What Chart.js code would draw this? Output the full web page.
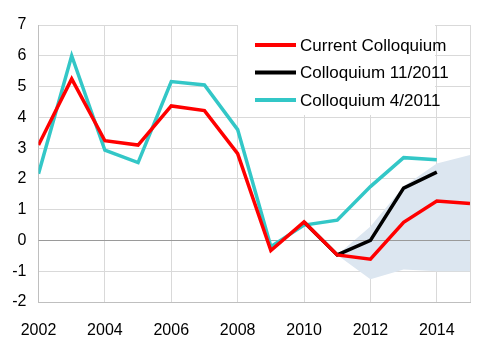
<!DOCTYPE html>
<html>
<head>
<meta charset="utf-8">
<script src="https://cdn.jsdelivr.net/npm/chart.js@4"></script>
<style>
  html, body { margin: 0; padding: 0; background: #fff; }
  #wrap { width: 500px; height: 353px; }
</style>
</head>
<body>
<div id="wrap"><canvas id="grafico" width="500" height="353"></canvas></div>
<script>
// Dados
const anos = [2002, 2003, 2004, 2005, 2006, 2007, 2008, 2009, 2010, 2011, 2012, 2013, 2014, 2015];
const atual = [3.1, 5.25, 3.24, 3.1, 4.37, 4.22, 2.82, -0.33, 0.6, -0.47, -0.61, 0.59, 1.28, 1.2];
const nov2011 = [null, null, null, null, null, null, null, null, 0.6, -0.47, 0.0, 1.7, 2.22, null];
const abr2011 = [2.17, 6.0, 2.93, 2.53, 5.16, 5.05, 3.6, -0.2, 0.5, 0.66, 1.75, 2.69, 2.62, null];
const faixaSuperior = [null, null, null, null, null, null, null, null, null, -0.47, 0.45, 1.75, 2.5, 2.78];
const faixaInferior = [null, null, null, null, null, null, null, null, null, -0.47, -1.26, -0.94, -1.0, -1.0];
const ticksX = [2002, 2004, 2006, 2008, 2010, 2012, 2014, 2015];
const nomes = ['Current Colloquium', 'Colloquium 11/2011', 'Colloquium 4/2011'];
const cores = ['#ff0000', '#000000', '#33c7c7'];

const pontos = valores => anos.map((a, i) => ({ x: a, y: valores[i] }));
const familia = '"Liberation Sans", Arial, sans-serif';

// Linha do zero por cima da faixa
const linhaZero = {
    id: 'linhaZero',
    beforeDatasetsDraw(chart) {
        const { ctx, chartArea, scales } = chart;
        const y = Math.round(scales.y.getPixelForValue(0)) + 0.5;
        ctx.save();
        ctx.strokeStyle = '#9a9a9a';
        ctx.lineWidth = 1;
        ctx.beginPath();
        ctx.moveTo(chartArea.left, y);
        ctx.lineTo(chartArea.right, y);
        ctx.stroke();
        ctx.restore();
    }
};

// Legenda desenhada dentro da área do gráfico
const legenda = {
    id: 'legenda',
    afterDraw(chart) {
        const ctx = chart.ctx;
        ctx.save();
        ctx.fillStyle = '#ffffff';
        ctx.fillRect(238, 25, 197, 90);
        ctx.font = '17px ' + familia;
        ctx.textBaseline = 'middle';
        nomes.forEach((nome, i) => {
            const y = 45 + i * 27.5;
            ctx.strokeStyle = cores[i];
            ctx.lineWidth = 4;
            ctx.beginPath();
            ctx.moveTo(255, y);
            ctx.lineTo(296, y);
            ctx.stroke();
            ctx.fillStyle = '#000000';
            ctx.fillText(nome, 300, y + 1);
        });
        ctx.restore();
    }
};

const linha = (label, valores, cor, ordem) => ({
    label: label,
    data: pontos(valores),
    borderColor: cor,
    backgroundColor: cor,
    borderWidth: 3.5,
    pointRadius: 0,
    tension: 0,
    fill: false,
    order: ordem
});

new Chart(document.getElementById('grafico'), {
    type: 'line',
    data: {
        datasets: [
            linha(nomes[0], atual, cores[0], 1),
            linha(nomes[1], nov2011, cores[1], 2),
            linha(nomes[2], abr2011, cores[2], 3),
            {
                label: 'faixa superior',
                data: pontos(faixaSuperior),
                borderWidth: 0,
                borderColor: 'rgba(0,0,0,0)',
                backgroundColor: 'rgb(220,230,240)',
                pointRadius: 0,
                fill: '+1',
                order: 4
            },
            {
                label: 'faixa inferior',
                data: pontos(faixaInferior),
                borderWidth: 0,
                borderColor: 'rgba(0,0,0,0)',
                pointRadius: 0,
                fill: false,
                order: 5
            }
        ]
    },
    plugins: [linhaZero, legenda],
    options: {
        responsive: false,
        animation: false,
        layout: { padding: { top: 25, right: 30, left: 0, bottom: 0 } },
        plugins: {
            legend: { display: false },
            tooltip: { enabled: false },
            filler: { drawTime: 'beforeDatasetsDraw' }
        },
        scales: {
            x: {
                type: 'linear',
                min: 2002,
                max: 2015,
                afterBuildTicks: axis => { axis.ticks = ticksX.map(v => ({ value: v })); },
                afterFit: axis => { axis.height = 51; },
                ticks: {
                    callback: v => (v === 2015 ? '' : String(v)),
                    color: '#000',
                    font: { family: familia, size: 16 },
                    padding: 19,
                    maxRotation: 0,
                    autoSkip: false
                },
                grid: { color: '#d9d9d9', drawTicks: false },
                border: { color: '#bfbfbf' }
            },
            y: {
                min: -2,
                max: 7,
                afterFit: axis => { axis.width = 38.5; },
                ticks: {
                    stepSize: 1,
                    color: '#000',
                    font: { family: familia, size: 16 },
                    padding: 12
                },
                grid: { color: '#d9d9d9', drawTicks: false },
                border: { color: '#bfbfbf' }
            }
        }
    }
});
</script>
</body>
</html>
